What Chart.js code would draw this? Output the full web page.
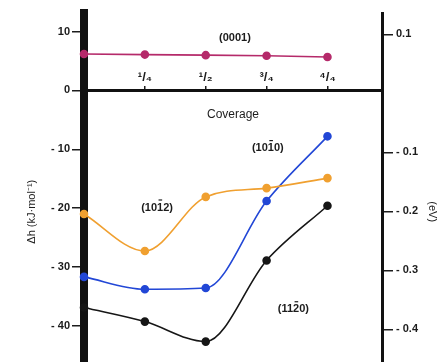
<!DOCTYPE html>
<html>
<head>
<meta charset="utf-8">
<script src="https://cdn.jsdelivr.net/npm/chart.js@4"></script>
<style>
    html, body { margin: 0; padding: 0; background: #fff; overflow: hidden; }
</style>
</head>
<body>
<canvas id="chart" width="448" height="420"></canvas>
<script>
// coverage values along x
const coverage = [0, 0.25, 0.5, 0.75, 1];
const coverageTicks = [0.25, 0.5, 0.75, 1];
const coverageLabels = ['\u00b9/\u2084', '\u00b9/\u2082', '\u00b3/\u2084', '\u2074/\u2084'];

// delta h in kJ/mol
const dh0001 = [6.2, 6.1, 6.0, 5.9, 5.7];
const dh1012 = [-21.0, -27.3, -18.1, -16.6, -14.9];
const dh1010 = [-31.7, -33.8, -33.6, -18.8, -7.8];
const dh1120 = [-36.9, -39.3, -42.7, -28.9, -19.6];

const kjTicks = [10, 0, -10, -20, -30, -40];
const evTicks = [0.1, -0.1, -0.2, -0.3, -0.4];

// face labels (Miller-Bravais indices), barred digit index, data coordinates
const faceNames = ['(0001)', '(1010)', '(1012)', '(1120)'];
const faceBar = [-1, 3, 3, 3];
const faceX = [0.62, 0.755, 0.3, 0.86];
const faceY = [8.9, -9.8, -19.9, -37.2];

const ink = '#1c1c1c';
const tickFont = { family: 'Liberation Sans', size: 11, weight: 'bold' };

function signed(v, digits) {
    const s = Math.abs(v).toFixed(digits);
    return v < 0 ? '- ' + s : s;
}

function series(values, color, smooth) {
    return {
        data: coverage.map((c, i) => ({ x: c, y: values[i] })),
        borderColor: color,
        backgroundColor: color,
        borderWidth: 1.6,
        pointRadius: 3.5,
        pointHoverRadius: 3.5,
        cubicInterpolationMode: smooth ? 'monotone' : 'default',
        tension: smooth ? 0.4 : 0,
        clip: false
    };
}

const faceLabels = {
    id: 'faceLabels',
    afterDatasetsDraw(chart) {
        const ctx = chart.ctx;
        const x = chart.scales.x;
        const y = chart.scales.y;
        ctx.save();
        ctx.font = 'bold 11px "Liberation Sans"';
        ctx.fillStyle = ink;
        ctx.strokeStyle = ink;
        ctx.lineWidth = 1.2;
        ctx.textAlign = 'left';
        ctx.textBaseline = 'middle';
        faceNames.forEach((t, i) => {
            const w = ctx.measureText(t).width;
            const left = x.getPixelForValue(faceX[i]) - w / 2;
            const mid = y.getPixelForValue(faceY[i]);
            ctx.fillText(t, left, mid);
            const b = faceBar[i];
            if (b >= 0) {
                const a = left + ctx.measureText(t.slice(0, b)).width;
                const cw = ctx.measureText(t[b]).width;
                ctx.beginPath();
                ctx.moveTo(a + 1.5, mid - 7.5);
                ctx.lineTo(a + cw - 1, mid - 7.5);
                ctx.stroke();
            }
        });
        ctx.restore();
    }
};

new Chart(document.getElementById('chart'), {
    type: 'line',
    data: {
        datasets: [
            series(dh0001, '#b52a6a', false),
            series(dh1012, '#f0a030', true),
            series(dh1010, '#2247d6', true),
            series(dh1120, '#161616', true)
        ]
    },
    options: {
        responsive: false,
        animation: false,
        layout: { padding: { top: 13, left: 0, right: 0, bottom: 0 } },
        plugins: {
            legend: { display: false },
            tooltip: { enabled: false }
        },
        scales: {
            x: {
                type: 'linear',
                min: 0,
                max: 1.224,
                position: { y: 0 },
                afterBuildTicks: s => { s.ticks = coverageTicks.map(v => ({ value: v })); },
                grid: { drawOnChartArea: false, tickLength: -6, color: ink, lineWidth: 1.5 },
                border: { display: true, color: '#111', width: 3 },
                ticks: {
                    padding: -15,
                    maxRotation: 0,
                    font: { family: 'Liberation Sans', size: 13, weight: 'bold' },
                    color: ink,
                    callback: (v, i) => coverageLabels[i]
                },
                title: {
                    display: true,
                    text: 'Coverage',
                    font: { family: 'Liberation Sans', size: 12 },
                    color: ink,
                    padding: { top: 37, bottom: 0 }
                }
            },
            y: {
                type: 'linear',
                position: 'left',
                min: -54.4,
                max: 13.17,
                afterBuildTicks: s => { s.ticks = kjTicks.map(v => ({ value: v })); },
                afterFit: s => { s.width = 84; },
                grid: { drawOnChartArea: false, tickLength: 12, color: ink, lineWidth: 1.5 },
                border: { color: '#111', width: 8 },
                ticks: {
                    padding: 2,
                    font: tickFont,
                    color: ink,
                    callback: v => signed(v, 0)
                },
                title: {
                    display: true,
                    text: '\u0394h (kJ\u00b7mol\u207b\u00b9)',
                    font: { family: 'Liberation Sans', size: 11 },
                    color: ink,
                    padding: { top: 25, bottom: 0 }
                }
            },
            y2: {
                type: 'linear',
                position: 'right',
                min: -0.5374,
                max: 0.1364,
                afterBuildTicks: s => { s.ticks = evTicks.map(v => ({ value: v })); },
                afterFit: s => { s.width = 66; },
                grid: { drawOnChartArea: false, tickLength: 11, color: ink, lineWidth: 1.5 },
                border: { color: '#111', width: 3 },
                ticks: {
                    padding: 3,
                    font: tickFont,
                    color: ink,
                    callback: v => signed(v, 1)
                },
                title: {
                    display: true,
                    text: '(eV)',
                    font: { family: 'Liberation Sans', size: 11 },
                    color: ink,
                    padding: { top: 9, bottom: 0 }
                }
            }
        }
    },
    plugins: [faceLabels]
});
</script>
</body>
</html>
